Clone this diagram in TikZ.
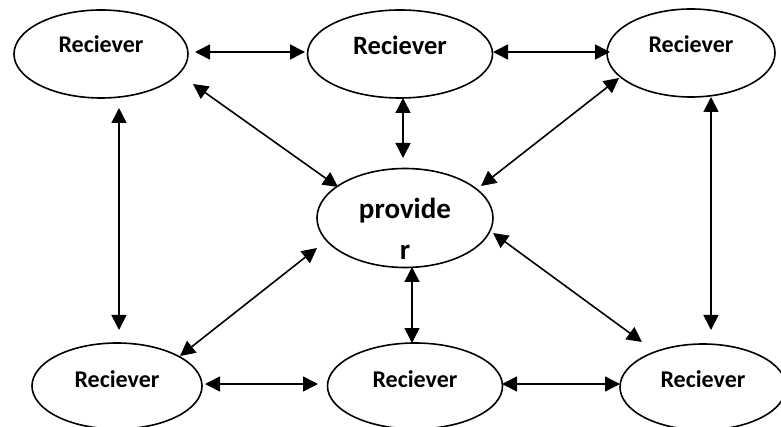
\documentclass[tikz,border=0pt]{standalone}
\usepackage{fontspec}
\setmainfont{Carlito}
\usetikzlibrary{arrows.meta,shapes.geometric,calc}
\begin{document}
\begin{tikzpicture}[x=1pt,y=-1pt,
  oval/.style={draw=black, line width=1.6pt, ellipse, inner sep=0pt},
  link/.style={line width=1.6pt, {Triangle[length=15pt,width=15pt]}-{Triangle[length=15pt,width=15pt]}},
  lbl/.style={font=\fontsize{24}{29}\selectfont\bfseries, anchor=base, inner sep=0pt},
  lblbig/.style={font=\fontsize{26.5}{32}\selectfont\bfseries, anchor=base, inner sep=0pt},
  lblprov/.style={font=\fontsize{29}{35}\selectfont\bfseries, anchor=base, inner sep=0pt}
]
\fill[white] (0,0) rectangle (781,427);
\useasboundingbox (0,0) rectangle (781,427);
\clip (0,0) rectangle (781,427);

% ellipses
\node[oval, minimum width=174pt, minimum height=88pt] (tl) at (101,54) {};
\node[oval, minimum width=185pt, minimum height=88pt] (tm) at (400,54) {};
\node[oval, minimum width=168pt, minimum height=88pt] (tr) at (691,53) {};
\node[oval, minimum width=176pt, minimum height=99pt] (p) at (405,218) {};
\node[oval, minimum width=170pt, minimum height=86pt] (bl) at (117,386) {};
\node[oval, minimum width=175pt, minimum height=86pt] (bm) at (415,386) {};
\node[oval, minimum width=166pt, minimum height=86pt] (br) at (703,387) {};

% texts
\node[lbl] (tlt) at ($(tl)+(0,-1)$) {Reciever};
\node[lblbig] (tmt) at ($(tm)+(0,1)$) {Reciever};
\node[lbl] (trt) at ($(tr)+(0,0)$) {Reciever};
\node[lblprov] (pt1) at ($(p)+(0,1)$) {provide};
\node[lblprov] (pt2) at ($(p)+(0,42)$) {r};
\node[lbl] (blt) at ($(bl)+(0,1)$) {Reciever};
\node[lbl] (bmt) at ($(bm)+(0,1)$) {Reciever};
\node[lbl] (brt) at ($(br)+(0,0)$) {Reciever};

% connectors
\draw[link] ($(tl)+(94,-2)$) -- ($(tm)+(-95,-2)$);
\draw[link] ($(tm)+(93,-2)$) -- ($(tr)+(-81,-1)$);
\draw[link] ($(tl)+(18,54)$) -- ($(bl)+(2,-56)$);
\draw[link] ($(tl)+(92,30)$) -- ($(p)+(-67,-31)$);
\draw[link] ($(tm)+(3,44)$) -- ($(p)+(-2,-60)$);
\draw[link] ($(tr)+(-72,25)$) -- ($(p)+(76,-32)$);
\draw[link] ($(tr)+(20,44)$) -- ($(br)+(8,-57)$);
\draw[link] ($(p)+(-88,30)$) -- ($(bl)+(63,-30)$);
\draw[link] ($(p)+(7,49)$) -- ($(bm)+(-3,-43)$);
\draw[link] ($(p)+(88,15)$) -- ($(br)+(-61,-45)$);
\draw[link] ($(bl)+(88,-2)$) -- ($(bm)+(-97,-2)$);
\draw[link] ($(bm)+(87,-2)$) -- ($(br)+(-83,-3)$);
\end{tikzpicture}
\end{document}
